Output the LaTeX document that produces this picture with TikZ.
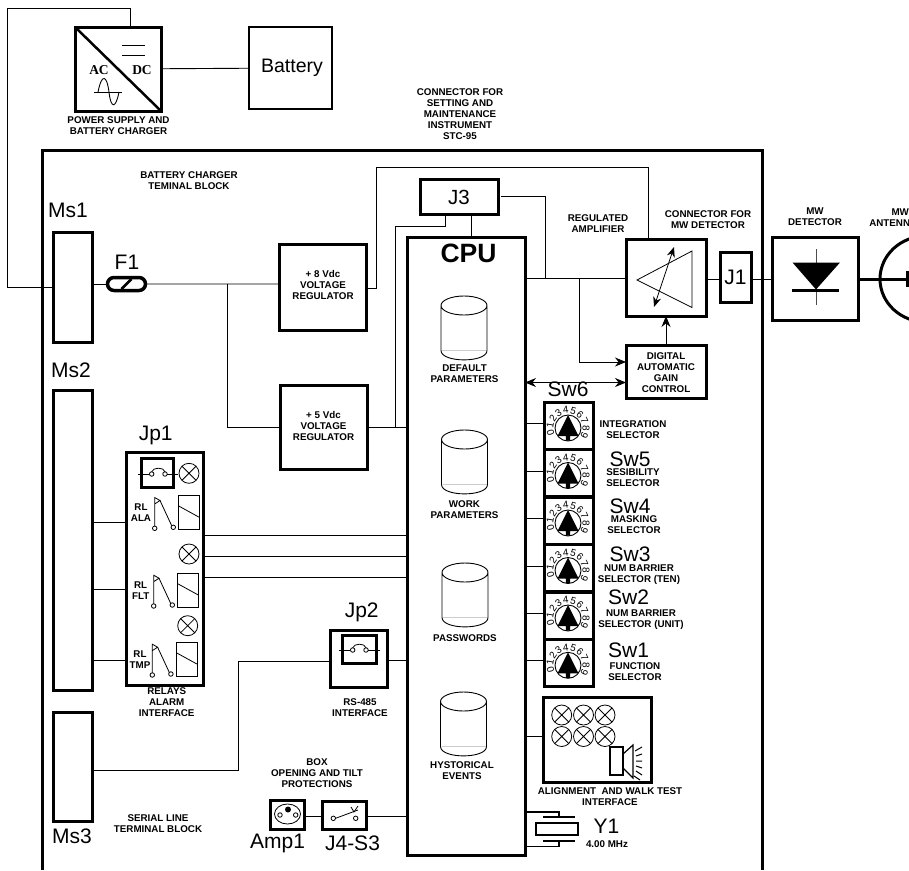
\documentclass[tikz,border=0pt]{standalone}
\usepackage{fontspec}
\setmainfont{Liberation Sans}
\newfontfamily\acfont{Liberation Serif}
\usetikzlibrary{shapes.geometric, shapes.misc, arrows.meta, positioning, calc}
\tikzset{
  caja/.style={draw, line width=3pt, inner sep=0pt, outer sep=0pt, align=center},
  cajafina/.style={draw, line width=2pt, inner sep=0pt, outer sep=0pt},
  etiq/.style={font=\fontsize{9.8}{11}\selectfont\bfseries, inner sep=0pt, align=center},
  nombre/.style={font=\fontsize{21}{21}\selectfont, inner sep=0pt},
  hilo/.style={line width=0.9pt},
  hilog/.style={line width=1.6pt},
  flecha/.style={-{Stealth[length=11pt,width=9pt]}, line width=0.9pt},
  lampara/.style={circle, draw, line width=0.8pt, minimum size=20pt, inner sep=0pt, outer sep=0pt,
    path picture={\draw[line width=0.8pt] (path picture bounding box.45) -- (path picture bounding box.225)
      (path picture bounding box.135) -- (path picture bounding box.315);}},
  borne/.style={circle, draw, line width=0.8pt, fill=white, minimum size=4.5pt, inner sep=0pt, outer sep=0pt}
}
\begin{document}
\begin{tikzpicture}[x=1pt,y=-1pt]
  \useasboundingbox (0,0) rectangle (909,870);
  \clip (0,0) rectangle (909,870);
  % outer frame, open at the bottom
  \draw[line width=3pt] (42.5,870) -- (42.5,150) -- (762.5,150) -- (762.5,870);

  % power supply and battery
  \node[caja, minimum width=86pt, minimum height=84pt] (psu) at (118,69) {};
  \node[cajafina, minimum width=83pt, minimum height=82pt, font=\fontsize{19.5}{20}\selectfont] (batt) at (290.5,68) {\hspace*{3pt}Battery};
  \node[etiq] (psulab) at (118.5,126) {POWER SUPPLY AND\\BATTERY CHARGER};
  \draw[line width=2.5pt] (psu.north west) -- (psu.south east);
  \node[inner sep=0pt, font=\fontsize{13.5}{14}\selectfont\acfont\bfseries] (ac) at (99,70.5) {AC};
  \node[inner sep=0pt, font=\fontsize{13.5}{14}\selectfont\acfont\bfseries] (dc) at (142,70.5) {DC};
  \draw[hilo] (122,45) -- (145,45) (122,55) -- (145,55);
  \draw[hilo] (94,92) -- (122,92);
  \draw[hilo] (98,92) .. controls (102,72) and (107,76) .. (109,92) .. controls (111,110) and (116,108) .. (119,92);
  \draw[hilo] (psu) -- (batt);
  \coordinate (lazoa) at (7,8);
  \coordinate (lazob) at (130.7,8);

  % terminal blocks
  \node[caja, minimum width=39pt, minimum height=110pt] (ms1) at (72.5,287) {};
  \node[caja, minimum width=39pt, minimum height=300pt] (ms2) at (72.5,540) {};
  \node[caja, minimum width=39pt, minimum height=109pt] (ms3) at (73,766.5) {};
  \node[nombre] (ms1lab) at (68,210) {Ms1};
  \node[nombre] (ms2lab) at (71,370) {Ms2};
  \node[nombre] (ms3lab) at (72,836) {Ms3};
  \node[etiq] (bctb) at (189,180.5) {BATTERY CHARGER\\TEMINAL BLOCK};
  \node[etiq] (sltb) at (158,824) {SERIAL LINE\\TERMINAL BLOCK};
  \draw[hilo] (ms1.west |- 0,287) -| (lazoa) -| (psu.north -| lazob);

  % fuse and regulators
  \node[draw, rounded rectangle, line width=3.5pt, minimum width=38pt, minimum height=13pt, inner sep=0pt, outer sep=0pt] (f1) at (126.5,284) {};
  \node[nombre] (f1lab) at (127,262) {F1};
  \draw[line width=2.5pt] (121.5,289) -- (131.5,279);
  \node[caja, minimum width=87pt, minimum height=86pt] (reg8) at (323,287) {};
  \node[etiq] (reg8lab) at (323,284.5) {+ 8 Vdc\\VOLTAGE\\REGULATOR};
  \node[caja, minimum width=87pt, minimum height=84pt] (reg5) at (323.5,427) {};
  \node[etiq] (reg5lab) at (323.5,426) {+ 5 Vdc\\VOLTAGE\\REGULATOR};
  \draw[hilo] (ms1.east |- f1) -- (f1);
  \draw[hilo] (f1) -- (reg8.west |- f1);
  \draw[hilo] (227,284) |- (reg5.west);

  % CPU
  \node[caja, minimum width=118pt, minimum height=618pt] (cpu) at (466,546) {};
  \node[inner sep=0pt, font=\fontsize{26.5}{27}\selectfont\bfseries] (cpulab) at (468.5,253) {CPU};
  \node[caja, minimum width=78pt, minimum height=35pt, font=\fontsize{20.5}{21}\selectfont] (j3) at (459,197) {\raisebox{-3pt}{J3}};
  \node[etiq] (j3lab) at (460,114) {CONNECTOR FOR\\SETTING AND\\MAINTENANCE\\INSTRUMENT\\STC-95};
  \draw[hilo] (reg8.east |- 0,288) -- (376.5,288) |- (648.5,167) -- (648.5,239);
  \draw[hilo] (reg5.east) -- (cpu.west |- reg5);
  \draw[hilo] (445,214.5) |- (395.5,226) -- (395.5,427);
  \draw[hilo] (471,214.5) -- (471,237);
  \draw[hilo] (501,196.5) -| (545,278);

  % memories
  \foreach \mem/\cx/\cy in {def/464/328, wrk/464.5/462, pwd/465/595, his/463.5/724} {
    \coordinate (\mem) at (\cx,\cy);
    \draw[line width=0.9pt, shift={(\mem)}] (0,-22.5) ellipse[x radius=23, y radius=9.5]
      (-23,-22.5) -- (-23,22.5) .. controls (-23,35) and (23,35) .. (23,22.5) -- (23,-22.5);
    \draw[line width=0.9pt, black!20, shift={(\mem)}] (-22,22.5) -- (22,22.5);
  }
  \node[etiq] (deflab) at (464.5,374) {DEFAULT\\PARAMETERS};
  \node[etiq] (wrklab) at (464.5,510) {WORK\\PARAMETERS};
  \node[etiq] (pwdlab) at (465,638) {PASSWORDS};
  \node[etiq] (hislab) at (462,771) {HYSTORICAL\\EVENTS};

  % amplifier, AGC and connectors
  \node[caja, minimum width=80pt, minimum height=77pt] (amp) at (666,277.5) {};
  \node[etiq] (amplab) at (598,224) {REGULATED\\AMPLIFIER};
  \node[etiq] (j1lab) at (708,220) {CONNECTOR FOR\\MW DETECTOR};
  \draw[line width=0.8pt] (692,251) -- (692,307.5) -- (637,280) -- cycle;
  \draw[{Stealth[length=10pt,width=8pt]}-{Stealth[length=10pt,width=8pt]}, line width=0.8pt] (654,307) -- (674,247);
  \node[caja, minimum width=80pt, minimum height=53pt] (agc) at (666,371.5) {};
  \node[etiq] (agclab) at (666,373) {DIGITAL\\AUTOMATIC\\GAIN\\CONTROL};
  \node[caja, minimum width=31pt, minimum height=50pt, font=\fontsize{21}{21}\selectfont] (j1) at (735.5,277) {J1};
  \draw[hilo] (cpu.east |- 0,278) -- (amp.west |- 0,278);
  \draw[flecha] (579,278) |- (agc.west |- 0,362);
  \draw[flecha] (agc.north) -- (amp.south);
  \draw[{Stealth[length=11pt,width=9pt]}-{Stealth[length=11pt,width=9pt]}, line width=0.9pt] (cpu.east |- 0,382.5) -- (agc.west |- 0,382.5);
  \draw[hilo] (amp.east |- 0,279.5) -- (j1.west |- 0,279.5);

  % detector and antenna
  \node[caja, minimum width=86pt, minimum height=83pt] (det) at (815.5,278.5) {};
  \node[etiq] (detlab) at (815,217) {MW\\DETECTOR};
  \node[etiq, anchor=north west, text width=52pt] (antlab) at (867,209) {\hspace*{14pt}MW\\ANTENNA};
  \draw[hilo] (j1.east |- 0,279.5) -- (det.west |- 0,279.5);
  \draw[line width=0.9pt, black!70] (816,249) -- (816,305);
  \fill (792.5,262.5) -- (840,262.5) -- (816,289.5) -- cycle;
  \draw[line width=3.5pt] (792,290.5) -- (839,290.5);
  \node[draw, ellipse, line width=3pt, minimum width=92pt, minimum height=86pt, inner sep=0pt, outer sep=0pt] (ant) at (926,279) {};
  \draw[line width=3pt] (det.east |- 0,279) -- (907,279);
  \draw[line width=3pt] (907.5,271) -- (907.5,287);

  % selectors
  \foreach \n/\ty in {6/402, 5/449.5, 4/497, 3/544.5, 2/592, 1/639.3} {
    \pgfmathsetmacro{\cy}{\ty+23.7}
    \pgfmathsetmacro{\ly}{\ty+21.5}
    \pgfmathsetmacro{\dy}{\ty+26}
    \node[caja, minimum width=49pt, minimum height=47.4pt] (sw\n) at (568.5,\cy) {};
    \draw[hilo] (cpu.east |- 0,\ly) -- (sw\n.west |- 0,\ly);
    \node[circle, draw, line width=0.9pt, minimum size=26pt, inner sep=0pt, outer sep=0pt] (dial\n) at (568,\dy) {};
    \fill[shift={(dial\n.center)}] (0,-13) -- (10.5,8) -- (2.2,8) -- (2.2,12.5) -- (-2.2,12.5) -- (-2.2,8) -- (-10.5,8) -- cycle;
    \foreach \v [count=\c from 0] in {0,...,9} {
      \pgfmathsetmacro{\a}{195-24.4*\c}
      \pgfmathsetmacro{\ang}{\a-90}
      \pgfmathsetmacro{\gx}{568+18*cos(\a)}
      \pgfmathsetmacro{\gy}{\dy-18*sin(\a)}
      \node[inner sep=0pt, font=\fontsize{10}{10}\selectfont, rotate=\ang] (dig\n\v) at (\gx,\gy) {\v};
    }
  }
  \node[nombre] (sw6lab) at (568,389) {Sw6};
  \node[nombre] (sw5lab) at (630,459) {Sw5};
  \node[nombre] (sw4lab) at (630,506) {Sw4};
  \node[nombre] (sw3lab) at (630,554) {Sw3};
  \node[nombre] (sw2lab) at (628.5,597) {Sw2};
  \node[nombre] (sw1lab) at (628.5,650) {Sw1};
  \node[etiq] (sw6txt) at (633,430) {INTEGRATION\\SELECTOR};
  \node[etiq] (sw5txt) at (633,478) {SESIBILITY\\SELECTOR};
  \node[etiq] (sw4txt) at (634,525) {MASKING\\SELECTOR};
  \node[etiq] (sw3txt) at (639,574.5) {NUM BARRIER\\SELECTOR (TEN)};
  \node[etiq] (sw2txt) at (641,619.5) {NUM BARRIER\\SELECTOR (UNIT)};
  \node[etiq] (sw1txt) at (635,671.5) {FUNCTION\\SELECTOR};

  % alignment and walk test
  \node[caja, minimum width=108pt, minimum height=85pt] (aln) at (597,739.5) {};
  \node[etiq] (alnlab) at (610,797) {ALIGNMENT\ \ AND WALK TEST\\INTERFACE};
  \draw[hilo] (cpu.east |- 0,736) -- (aln.west |- 0,736);
  \foreach \i/\lx/\ly in {1/561.7/715, 2/583.5/715, 3/605/715, 4/561.7/736.5, 5/583.5/736.5, 6/605/736.5} {
    \node[lampara] (ld\i) at (\lx,\ly) {};
  }
  \node[draw, line width=1.4pt, minimum width=13pt, minimum height=28pt, inner sep=0pt, outer sep=0pt] (spk) at (616.5,761) {};
  \draw[line width=1.2pt] (spk.north east) ++(0,7) -- (633,745) -- (633,778) -- (623,768);
  \draw[line width=1pt] (635,751) -- (642,747) (636,756) -- (642,754) (636,761) -- (642,761)
    (636,766) -- (642,768) (636,771) -- (642,775) (634,776) -- (640,780);

  % crystal
  \node[draw, line width=1.3pt, minimum width=42pt, minimum height=12pt, inner sep=0pt, outer sep=0pt] (y1) at (557,829) {};
  \draw[hilog] (cpu.east |- 0,812) -- (559,812) -- (559,817);
  \draw[hilog] (543,817) -- (575,817);
  \draw[hilog] (543,841) -- (575,841);
  \draw[hilog] (559,841) -- (559,846.5) -- (cpu.east |- 0,846.5);
  \node[nombre] (y1lab) at (606.5,826.5) {Y1};
  \node[etiq] (y1txt) at (607,844) {4.00 MHz};

  % box protections
  \node[caja, minimum width=34pt, minimum height=29pt] (amp1) at (287.5,814.5) {};
  \node[caja, minimum width=44pt, minimum height=28pt] (j4) at (344.5,815) {};
  \node[nombre] (amp1lab) at (277.5,843) {Amp1};
  \node[nombre] (j4lab) at (352.5,843) {J4-S3};
  \node[etiq] (boxlab) at (317,773) {BOX\\OPENING AND TILT\\PROTECTIONS};
  \node[draw, ellipse, line width=0.8pt, minimum width=26pt, minimum height=20pt, inner sep=0pt, outer sep=0pt] (sock) at (287.5,814) {};
  \fill (288,809.5) circle[radius=3];
  \node[borne] (sockl) at (280,815) {};
  \node[borne] (sockr) at (295.7,815) {};
  \node[borne] (s3a) at (333.3,818.3) {};
  \node[borne] (s3b) at (355.7,818.3) {};
  \draw[line width=0.8pt] (s3a.east) -- (358,810);
  \draw[line width=0.8pt] (351,807) -- (354,812) -- (358,806);
  \draw[hilo] (amp1.east |- 0,816) -- (j4.west |- 0,816);
  \draw[hilo] (j4.east |- 0,816) -- (cpu.west |- 0,816);

  % relays
  \node[caja, minimum width=76.6pt, minimum height=233pt] (jp1) at (165,569.2) {};
  \node[nombre] (jp1lab) at (155.7,435) {Jp1};
  \node[etiq] (jp1txt) at (166.7,702.5) {RELAYS\\ALARM\\INTERFACE};
  \node[caja, minimum width=31.6pt, minimum height=29pt] (jmpa) at (157.5,472.8) {};
  \node[borne] (jmpal) at (151.7,474) {};
  \node[borne] (jmpar) at (165,474) {};
  \draw[line width=0.8pt] (138,474) -- (jmpal) (jmpar) -- (178,474);
  \draw[line width=0.8pt] (jmpal.north) .. controls (153,467) and (164,467) .. (jmpar.north);
  \node[lampara] (lmpa) at (189,473.3) {};
  \node[lampara] (lmpb) at (189,554) {};
  \node[lampara] (lmpc) at (187.7,625.7) {};
  \foreach \rl/\txt/\dx/\dy/\tx in {ala/ALA/0/0/141, flt/FLT/-1/77.7/140.7, tmp/TMP/-2.4/146.7/140} {
    \begin{scope}[shift={(\dx,\dy)}]
      \node[draw, line width=0.8pt, minimum width=20.6pt, minimum height=33.6pt, inner sep=0pt, outer sep=0pt] (coil\rl) at (189,512.5) {};
      \draw[line width=0.8pt] (coil\rl.west |- 0,506) -- (coil\rl.east |- 0,517.3);
      \node[borne] (cta\rl) at (154.7,528.3) {};
      \node[borne] (ctb\rl) at (173.3,527.3) {};
      \draw[line width=0.8pt] (cta\rl.north) -- (154.7,497.5) -- (160,500.5) -- (154.7,504);
      \draw[line width=0.8pt] (160,500.5) -- (ctb\rl.north west);
    \end{scope}
    \pgfmathsetmacro{\ty}{513+\dy}
    \node[etiq] (txt\rl) at (\tx,\ty) {RL\\\txt};
  }
  \draw[hilo] (ms2.east |- 0,522) -- (jp1.west |- 0,522);
  \draw[hilo] (ms2.east |- 0,589) -- (jp1.west |- 0,589);
  \draw[hilo] (ms2.east |- 0,660.7) -- (jp1.west |- 0,660.7);
  \draw[hilo] (jp1.east |- 0,535) -- (cpu.west |- 0,535);
  \draw[hilo] (jp1.east |- 0,556.3) -- (cpu.west |- 0,556.3);
  \draw[hilo] (jp1.east |- 0,577.3) -- (cpu.west |- 0,577.3);

  % serial interface
  \node[caja, minimum width=57.6pt, minimum height=56.6pt] (jp2) at (358.8,659) {};
  \node[caja, minimum width=34pt, minimum height=28.6pt] (jmpb) at (359,649.6) {};
  \node[nombre] (jp2lab) at (361.7,612.3) {Jp2};
  \node[etiq] (jp2txt) at (360,707.5) {RS-485\\INTERFACE};
  \node[borne] (jmpbl) at (352.7,650) {};
  \node[borne] (jmpbr) at (366,650) {};
  \draw[line width=0.8pt] (339,650) -- (jmpbl) (jmpbr) -- (379.7,650);
  \draw[line width=0.8pt] (jmpbl.north) .. controls (354,643) and (365,643) .. (jmpbr.north);
  \draw[hilo] (jp2.east |- 0,660.7) -- (cpu.west |- 0,660.7);
  \draw[hilo] (jp2.west |- 0,661.7) -| (238.3,770) -- (ms3.east |- 0,770);
\end{tikzpicture}
\end{document}
